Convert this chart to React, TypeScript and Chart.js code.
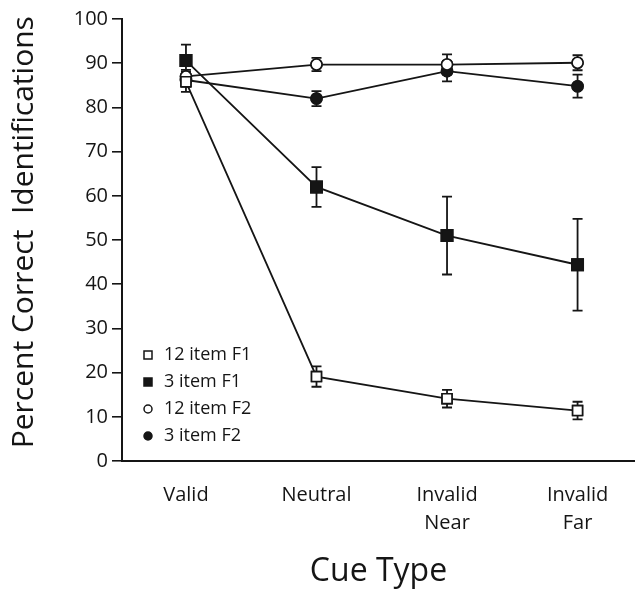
import React, { useEffect, useRef } from "react";
import { Chart, registerables } from "chart.js";

Chart.register(...registerables);

const categories: string[][] = [["Valid"], ["Neutral"], ["Invalid", "Near"], ["Invalid", "Far"]];
const yTicks = [0, 10, 20, 30, 40, 50, 60, 70, 80, 90, 100];

const seriesNames = ["12 item F1", "3 item F1", "12 item F2", "3 item F2"];
const item12F1 = [85.8, 19.1, 14.1, 11.4];
const item12F1Err = [2.3, 2.3, 2.0, 2.0];
const item3F1 = [90.6, 62.0, 51.0, 44.4];
const item3F1Err = [3.6, 4.5, 8.8, 10.4];
const item12F2 = [87.0, 89.7, 89.7, 90.1];
const item12F2Err = [1.5, 1.5, 2.3, 1.7];
const item3F2 = [86.2, 82.0, 88.2, 84.8];
const item3F2Err = [1.5, 1.7, 2.3, 2.6];

const INK = "#151515";
const FONT = "'Open Sans', 'Noto Sans', sans-serif";

const errorBars = {
  id: "errorBars",
  afterDatasetsDraw(chart: any) {
    const ctx = chart.ctx;
    const ys = chart.scales.y;
    ctx.save();
    ctx.strokeStyle = INK;
    ctx.lineWidth = 1.8;
    chart.data.datasets.forEach((ds: any, di: number) => {
      const meta = chart.getDatasetMeta(di);
      meta.data.forEach((pt: any, i: number) => {
        const v = ds.data[i].y;
        const e = ds.errors[i];
        const x = pt.x;
        const top = ys.getPixelForValue(v + e);
        const bot = ys.getPixelForValue(v - e);
        ctx.beginPath();
        ctx.moveTo(x, top);
        ctx.lineTo(x, bot);
        ctx.moveTo(x - 5, top);
        ctx.lineTo(x + 5, top);
        ctx.moveTo(x - 5, bot);
        ctx.lineTo(x + 5, bot);
        ctx.stroke();
      });
    });
    ctx.restore();
    // redraw points on top of bars
    for (let di = chart.data.datasets.length - 1; di >= 0; di--) {
      const meta = chart.getDatasetMeta(di);
      meta.data.forEach((pt: any) => pt.draw(ctx, chart.chartArea));
    }
  },
};

const insideLegend = {
  id: "insideLegend",
  afterDraw(chart: any) {
    const ctx = chart.ctx;
    const area = chart.chartArea;
    const x0 = area.left + 26;
    const yStart = area.bottom - 106;
    const step = 27;
    ctx.save();
    ctx.font = `18px ${FONT}`;
    ctx.textBaseline = "middle";
    ctx.fillStyle = INK;
    chart.data.datasets.forEach((ds: any, i: number) => {
      const y = yStart + i * step;
      ctx.lineWidth = 1.5;
      ctx.strokeStyle = INK;
      ctx.fillStyle = ds.pointBackgroundColor;
      ctx.beginPath();
      if (ds.pointStyle === "rect") {
        ctx.rect(x0 - 4, y - 4, 8, 8);
      } else {
        ctx.arc(x0, y, 4, 0, Math.PI * 2);
      }
      ctx.fill();
      ctx.stroke();
      ctx.fillStyle = INK;
      ctx.fillText(ds.label, x0 + 16, y);
    });
    ctx.restore();
  },
};

function mk(label: string, values: number[], errs: number[], style: string, filled: boolean, radius: number) {
  return {
    label,
    data: values.map((v, i) => ({ x: i, y: v })),
    errors: errs,
    borderColor: INK,
    borderWidth: 1.8,
    pointStyle: style,
    pointRadius: radius,
    pointBorderWidth: 1.6,
    pointBorderColor: INK,
    pointBackgroundColor: filled ? INK : "#ffffff",
    fill: false,
    tension: 0,
  };
}

export default function App() {
  const ref = useRef<HTMLCanvasElement>(null);
  useEffect(() => {
    if (!ref.current) return;
    const chart = new Chart(ref.current, {
      type: "line",
      data: {
        datasets: [
          mk(seriesNames[0], item12F1, item12F1Err, "rect", false, 7),
          mk(seriesNames[1], item3F1, item3F1Err, "rect", true, 8),
          mk(seriesNames[2], item12F2, item12F2Err, "circle", false, 5.5),
          mk(seriesNames[3], item3F2, item3F2Err, "circle", true, 5.5),
        ] as any,
      },
      options: {
        animation: false,
        responsive: false,
        maintainAspectRatio: false,
        layout: { autoPadding: false, padding: { top: 19, right: 0, left: 0, bottom: 0 } },
        plugins: { legend: { display: false }, tooltip: { enabled: false } },
        scales: {
          x: {
            type: "linear",
            min: -0.49,
            max: 3.44,
            afterBuildTicks: (s: any) => {
              s.ticks = categories.map((_, i) => ({ value: i }));
            },
            afterFit: (s: any) => {
              s.height = 144;
              s.paddingLeft = 0;
              s.paddingRight = 0;
            },
            grid: { display: false, drawTicks: false },
            border: { display: true, color: INK, width: 2 },
            ticks: {
              autoSkip: false,
              maxRotation: 0,
              padding: 20,
              color: INK,
              font: { family: FONT, size: 20, lineHeight: 1.4 },
              callback: (v: any) => categories[Math.round(Number(v))] ?? "",
            },
            title: {
              display: true,
              text: "Cue Type",
              color: INK,
              font: { family: FONT, size: 32 },
              padding: { top: 0, bottom: 14 },
            },
          },
          y: {
            min: 0,
            max: 100,
            afterBuildTicks: (s: any) => {
              s.ticks = yTicks.map((v) => ({ value: v }));
            },
            afterFit: (s: any) => {
              s.width = 122;
            },
            grid: {
              drawOnChartArea: false,
              drawTicks: true,
              tickLength: 10,
              color: INK,
              lineWidth: 1.6,
            },
            border: { display: true, color: INK, width: 2 },
            ticks: {
              padding: 4,
              color: INK,
              font: { family: FONT, size: 20 },
            },
            title: {
              display: true,
              text: "  Percent Correct  Identifications",
              color: INK,
              font: { family: FONT, size: 30 },
              padding: { top: 6, bottom: 0 },
            },
          },
        },
      },
      plugins: [errorBars, insideLegend],
    });
    return () => chart.destroy();
  }, []);
  return (
    <div style={{ position: "fixed", left: 0, top: 0, width: 635, height: 605, background: "#fff" }}>
      <canvas ref={ref} width={635} height={605} style={{ width: 635, height: 605, display: "block" }} />
    </div>
  );
}
